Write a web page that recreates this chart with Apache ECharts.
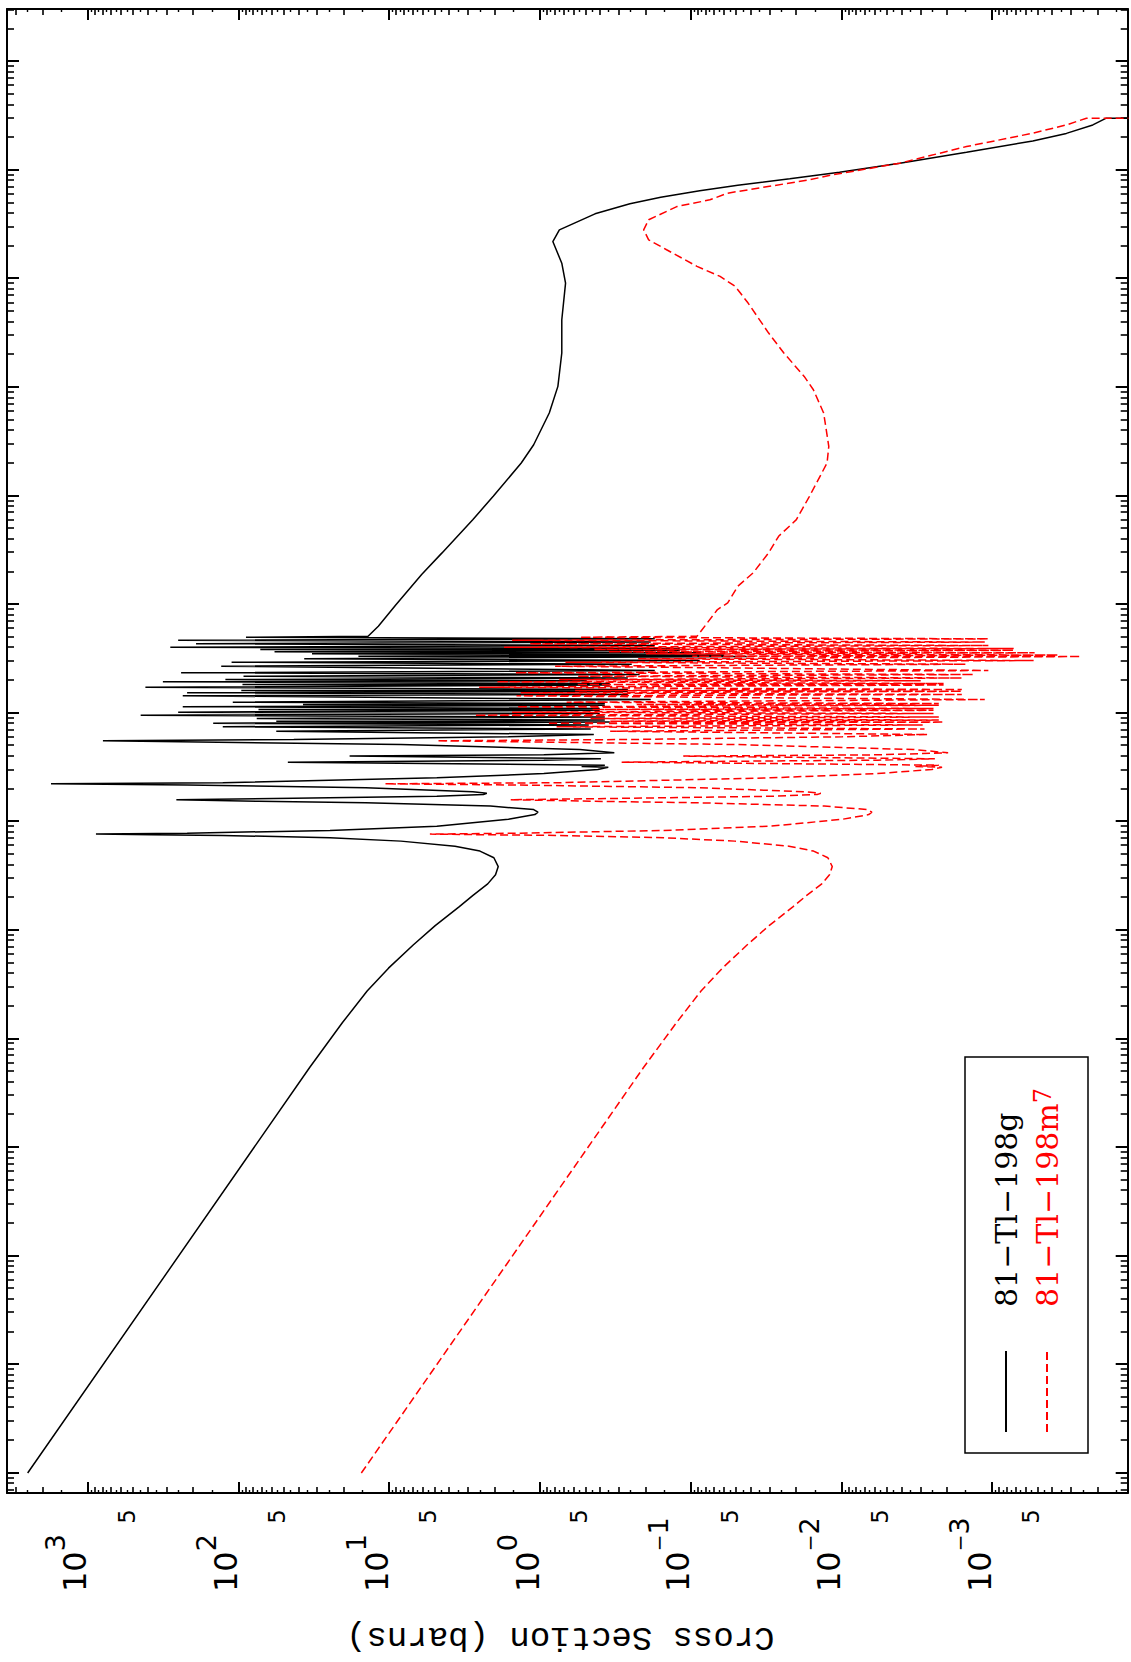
<!DOCTYPE html>
<html>
<head>
<meta charset="utf-8">
<script src="https://cdn.jsdelivr.net/npm/echarts@6/dist/echarts.min.js"></script>
<style>
html,body{margin:0;padding:0;background:#fff;overflow:hidden;width:1131px;height:1662px;}
#chart{position:absolute;left:0;top:0;width:1662px;height:1131px;transform-origin:0 0;transform:translate(0px,1662px) rotate(-90deg);background:#fff;}
</style>
</head>
<body>
<div id="chart"></div>
<script>
// ---- data (energy in eV, cross section in barns) ----
const seriesNames = ['81\u2212Tl\u2212198g', '81\u2212Tl\u2212198m7'];

// thermal / 1/v part (shared energies)
const lowEnergy = [1e-5, 0.0546, 0.141, 0.275, 0.447, 0.730, 1.10, 1.64, 2.09, 2.67, 3.24, 3.85];
const gLowXS = [2500, 33.6, 20.4, 14.0, 10.1, 6.93, 4.95, 3.44, 2.78, 2.22, 1.97, 1.89];
const mLowXS = [15.3, 0.205, 0.124, 0.0854, 0.0616, 0.0423, 0.0302, 0.0210, 0.0170, 0.0135, 0.0120, 0.0115];

// first isolated resonances (shared energies)
const resEnergy = [4.65, 5.35, 5.94, 6.61, 7.10, 7.46, 7.57, 7.67, 7.83, 8.29, 9.08, 10.5, 11.6, 12.2, 12.9, 13.9, 14.9, 15.4, 15.9, 16.4, 17.1, 17.8, 18.2, 18.8, 20.5, 21.7, 22.3, 22.8, 25.3, 27.7, 30.2, 31.7, 32.2, 33.1, 35.3, 36.8, 37.9, 40.1, 41.2, 43.0, 46.1, 51.3, 55.5, 57.0, 60.4];
const gResXS = [2.02, 2.50, 3.66, 8.36, 24.7, 127, 380, 881, 219, 24.7, 4.83, 1.62, 1.08, 1.03, 1.10, 2.13, 14.3, 73.6, 258, 42.9, 4.83, 2.37, 2.25, 2.79, 14.3, 219, 1750, 127, 4.83, 0.942, 0.413, 0.352, 0.529, 0.371, 47.0, 0.942, 0.394, 18.3, 0.942, 0.321, 0.543, 8.36, 792, 42.9, 1.62];
const mResXS = [0.0123, 0.0153, 0.0223, 0.0510, 0.151, 0.775, 2.32, 5.37, 1.34, 0.151, 0.0295, 0.00988, 0.00659, 0.00628, 0.00671, 0.0130, 0.0872, 0.449, 1.57, 0.262, 0.0295, 0.0145, 0.0137, 0.0170, 0.0872, 1.34, 10.7, 0.775, 0.0295, 0.00575, 0.00252, 0.00215, 0.00323, 0.00226, 0.287, 0.00575, 0.00240, 0.112, 0.00575, 0.00196, 0.00331, 0.0510, 4.83, 0.262, 0.00988];

// dense resolved resonances (shared energies; peak / valley alternation)
const denseEnergy = [63.4, 68.0, 71.3, 74.7, 77.6, 80.6, 82.5, 84.1, 86.1, 89.0, 91.9, 95.5, 99.0, 101.8, 105.9, 107.8, 110.1, 114.1, 117.8, 119.8, 122.3, 125.8, 133.2, 144.1, 148.1, 153.5, 158.5, 161.2, 164.6, 172.9, 181.1, 183.0, 186.9, 193.9, 198.4, 203.5, 210.1, 218.3, 226.3, 234.6, 246.3, 269.8, 281.4, 293.6, 304.4, 315.6, 331.4, 333.4, 342.0, 351.0, 358.5, 366.2, 377.9, 384.5, 392.6, 403.6, 418.4, 433.7, 450.5, 468.0, 482.1, 498.8];
const gDenseXS = [0.439, 56.1, 0.460, 127, 0.474, 147, 0.344, 56.1, 0.371, 75.6, 0.371, 445, 0.401, 251, 0.401, 73.6, 0.401, 234, 0.371, 37.3, 0.371, 109, 0.184, 234, 0.261, 219, 0.261, 95.7, 0.261, 414, 0.344, 94.0, 0.344, 317, 0.489, 122, 0.261, 92.5, 0.218, 240, 0.173, 130, 0.246, 111, 0.0871, 36.6, 0.0425, 16.0, 0.0600, 32.5, 0.0857, 57.6, 0.118, 71.6, 0.118, 283, 0.173, 191, 0.184, 251, 0.173, 89.1];
const mDenseXS = [0.00268, 0.342, 0.00281, 0.775, 0.00289, 0.897, 0.00210, 0.342, 0.00226, 0.461, 0.00226, 2.71, 0.00245, 1.53, 0.00245, 0.449, 0.00245, 1.43, 0.00226, 0.228, 0.00226, 0.665, 0.00112, 1.43, 0.00159, 1.34, 0.00159, 0.584, 0.00159, 2.53, 0.00210, 0.573, 0.00210, 1.93, 0.00298, 0.744, 0.00159, 0.564, 0.00133, 1.46, 0.00106, 0.793, 0.00150, 0.677, 0.000531, 0.223, 0.000259, 0.0976, 0.000366, 0.198, 0.000523, 0.351, 0.000720, 0.437, 0.000720, 1.73, 0.00106, 1.17, 0.00112, 1.53, 0.00106, 0.544];

// smooth high-energy part
const gHighEnergy = [509, 630, 998, 1884, 2985, 6040, 9900, 20100, 29600, 58000, 102000, 207000, 419000, 912000, 1390000, 2200000, 2820000, 3960000, 4900000, 5620000, 6450000, 7250000, 8320000, 9550000, 11560000, 14600000, 18600000, 21800000, 26100000, 30100000, 30100000];
const gHighXS = [13.8, 11.8, 8.99, 6.09, 4.46, 2.79, 2.04, 1.33, 1.10, 0.867, 0.760, 0.716, 0.716, 0.676, 0.716, 0.821, 0.743, 0.431, 0.253, 0.158, 0.0871, 0.0487, 0.0220, 0.0103, 0.0041, 0.00148, 0.000538, 0.000322, 0.000215, 0.000175, 0.000001];
const mHighEnergy = [509, 897, 1034, 1470, 1954, 2985, 4245, 6040, 9900, 20100, 28600, 58000, 95000, 126000, 207000, 316000, 597000, 849000, 1050000, 1300000, 1850000, 2280000, 2820000, 3490000, 4620000, 5330000, 6140000, 8150000, 9060000, 11600000, 16500000, 21900000, 26100000, 30100000, 30100000];
const mHighXS = [0.0908, 0.0664, 0.0568, 0.0487, 0.0385, 0.0304, 0.0261, 0.0199, 0.0163, 0.01245, 0.01213, 0.01312, 0.01535, 0.01766, 0.0241, 0.0304, 0.0416, 0.0506, 0.0638, 0.0908, 0.1445, 0.190, 0.205, 0.190, 0.1236, 0.0746, 0.0568, 0.0163, 0.01143, 0.0041, 0.00148, 0.000538, 0.000322, 0.000237, 0.000001];

// ---- axes ----
const energyRange = [6.55e-6, 3.05e8];
const xsRange = [1.262e-4, 3428];
const energyMajor = [1e-5, 1e-4, 1e-3, 1e-2, 1e-1, 1, 10, 100, 1e3, 1e4, 1e5, 1e6, 1e7, 1e8];
const xsMajor = [1e-3, 1e-2, 1e-1, 1, 10, 100, 1e3];
const xsFiveLabels = [5e-4, 5e-3, 5e-2, 0.5, 5, 50, 500];
const minorMantissa = [2, 3, 4, 5, 6, 7, 8, 9];
const halfMantissa = [1.5, 2.5, 3.5, 4.5, 5.5, 6.5, 7.5, 8.5, 9.5];

function pairs(es, vs) { return es.map((e, i) => [e, vs[i]]); }
const gData = [].concat(pairs(lowEnergy, gLowXS), pairs(resEnergy, gResXS), pairs(denseEnergy, gDenseXS), pairs(gHighEnergy, gHighXS));
const mData = [].concat(pairs(lowEnergy, mLowXS), pairs(resEnergy, mResXS), pairs(denseEnergy, mDenseXS), pairs(mHighEnergy, mHighXS));

function tickList(mantissas, kFrom, kTo, range) {
  const out = [];
  for (let k = kFrom; k <= kTo; k++) {
    mantissas.forEach(m => {
      const v = Number((m * Math.pow(10, k)).toPrecision(4));
      if (v > range[0] && v < range[1]) out.push(v);
    });
  }
  return out;
}
const energyMinor = tickList(minorMantissa, -6, 8, energyRange);
const xsMinor = tickList(minorMantissa, -4, 3, xsRange);
const xsHalf = tickList(halfMantissa, -4, 3, xsRange);

function logAxis(range, position, ticks, len, width, showLine) {
  return {
    type: 'log', logBase: 10, min: range[0], max: range[1], position: position,
    axisLine: { show: showLine, lineStyle: { color: '#000', width: 2 } },
    axisTick: { show: true, inside: true, length: len, customValues: ticks,
                lineStyle: { color: '#000', width: width } },
    axisLabel: { show: false },
    splitLine: { show: false },
    minorTick: { show: false },
    minorSplitLine: { show: false }
  };
}

const xAxes = [
  logAxis(energyRange, 'bottom', energyMajor, 12, 2, true),
  logAxis(energyRange, 'top', energyMajor, 12, 2, true),
  logAxis(energyRange, 'bottom', energyMinor, 7, 1.6, false),
  logAxis(energyRange, 'top', energyMinor, 7, 1.6, false)
];

const yMain = logAxis(xsRange, 'left', xsMajor, 11, 2, true);
yMain.axisLabel = {
  show: true, customValues: xsMajor, margin: 99, align: 'left', verticalAlign: 'middle',
  formatter: function (v) {
    const e = Math.round(Math.log10(v));
    if (e < 0) return '{b|10}{m|\u2212}{s|' + (-e) + '}';
    return '{b|10}{s|' + e + '}';
  },
  rich: {
    b: { fontFamily: 'DejaVu Sans', fontSize: 32, color: '#000', padding: [17.5, 0, 42, 0], verticalAlign: 'top' },
    m: { fontFamily: 'DejaVu Sans', fontSize: 20, color: '#000', padding: [4, 0, 0, 0], verticalAlign: 'top' },
    s: { fontFamily: 'DejaVu Sans', fontSize: 27, color: '#000', verticalAlign: 'top' }
  }
};
yMain.name = 'Cross Section (barns)';
yMain.nameLocation = 'middle';
yMain.nameGap = 127;
yMain.nameTextStyle = { fontFamily: 'Liberation Mono', fontSize: 34, color: '#000', padding: [0, 0, 0, 14] };

const yFive = logAxis(xsRange, 'left', xsMinor, 6, 1.6, false);
yFive.axisLabel = {
  show: true, customValues: xsFiveLabels, margin: 16, align: 'right', verticalAlign: 'middle',
  formatter: function () { return '{c|5}'; },
  rich: { c: { fontFamily: 'DejaVu Sans', fontSize: 23, color: '#000', padding: [0, 0, 13, 0] } }
};

const yAxes = [
  yMain,
  logAxis(xsRange, 'right', xsMajor, 11, 2, true),
  yFive,
  logAxis(xsRange, 'right', xsMinor, 6, 1.6, false),
  logAxis(xsRange, 'left', xsHalf, 3, 1.4, false),
  logAxis(xsRange, 'right', xsHalf, 3, 1.4, false)
];

const chart = echarts.init(document.getElementById('chart'), null, { renderer: 'svg', width: 1662, height: 1131 });
chart.setOption({
  animation: false,
  backgroundColor: '#fff',
  grid: { left: 168, right: 9, top: 7, bottom: 3.3 },
  xAxis: xAxes,
  yAxis: yAxes,
  legend: {
    orient: 'vertical', left: 209, top: 965,
    padding: [23, 31, 23, 20],
    itemWidth: 81, itemHeight: 14, itemGap: 5,
    borderColor: '#000', borderWidth: 1.5, borderRadius: 0,
    itemStyle: { opacity: 0, borderWidth: 0 },
    textStyle: { fontFamily: 'DejaVu Serif', fontSize: 30, lineHeight: 36, padding: [0, 0, 0, 39],
      rich: { t: { fontFamily: 'DejaVu Serif', fontSize: 30 }, p: { fontFamily: 'DejaVu Serif', fontSize: 24, padding: [0, 0, 8, 0] } } },
    formatter: function (name) {
      if (name === seriesNames[1]) return '{t|81\u2212Tl\u2212198m}{p|7}';
      return name;
    },
    data: [
      { name: seriesNames[0], textStyle: { color: '#000' } },
      { name: seriesNames[1], textStyle: { color: '#ff0000' } }
    ]
  },
  series: [
    {
      name: seriesNames[0], type: 'line', xAxisIndex: 0, yAxisIndex: 0,
      data: gData,
      symbol: 'none', showSymbol: false,
      lineStyle: { color: '#000', width: 1.5 }, itemStyle: { color: '#000' }
    },
    {
      name: seriesNames[1], type: 'line', xAxisIndex: 0, yAxisIndex: 0,
      data: mData,
      symbol: 'none', showSymbol: false,
      lineStyle: { color: '#ff0000', width: 1.5, type: [8, 4] }, itemStyle: { color: '#ff0000' }
    }
  ]
});
</script>
</body>
</html>
